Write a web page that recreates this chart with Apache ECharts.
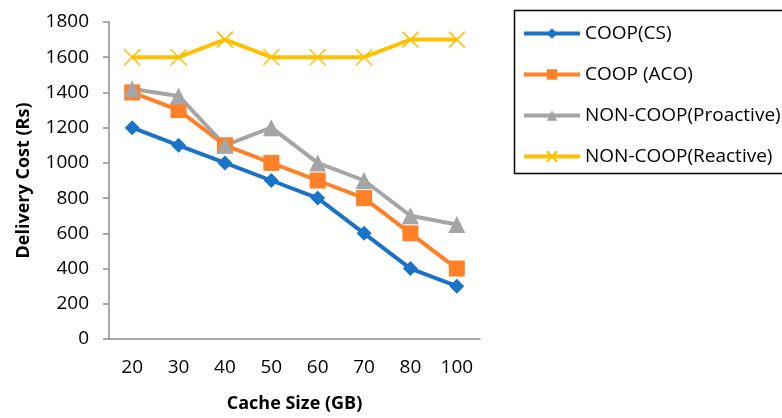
<!DOCTYPE html>
<html>
<head>
<meta charset="utf-8">
<script src="https://cdn.jsdelivr.net/npm/echarts@6/dist/echarts.min.js"></script>
<style>
  html, body { margin: 0; padding: 0; background: #fff; }
  #chart { width: 782px; height: 418px; }
</style>
</head>
<body>
<div id="chart"></div>
<script>
// Cache sizes (GB) along the x axis
const cacheSizes = ['20', '30', '40', '50', '60', '70', '80', '100'];

// Delivery cost (Rs) for each caching strategy
const coopCS = [1200, 1100, 1000, 900, 800, 600, 400, 300];
const coopACO = [1400, 1300, 1100, 1000, 900, 800, 600, 400];
const nonCoopProactive = [1420, 1380, 1100, 1200, 1000, 900, 700, 650];
const nonCoopReactive = [1600, 1600, 1700, 1600, 1600, 1600, 1700, 1700];

const seriesNames = ['COOP(CS)', 'COOP (ACO)', 'NON-COOP(Proactive)', 'NON-COOP(Reactive)'];

const FONT = '"Open Sans", "Liberation Sans", sans-serif';
const AXIS_GRAY = '#8C8C8C';
const CROSS = 'path://M0,0L10,10M10,0L0,10';

function lineSeries(name, data, color, symbol, size, extra) {
  return Object.assign({
    name: name,
    type: 'line',
    data: data,
    symbol: symbol,
    symbolSize: size,
    showAllSymbol: true,
    lineStyle: { color: color, width: 4 },
    itemStyle: { color: color, borderColor: color, borderWidth: 0 },
    emphasis: { disabled: true },
    animation: false
  }, extra || {});
}

const chart = echarts.init(document.getElementById('chart'), null, { renderer: 'canvas' });

chart.setOption({
  backgroundColor: '#ffffff',
  textStyle: { fontFamily: FONT },
  grid: { left: 109, top: 22, right: 302, bottom: 76, containLabel: false },
  xAxis: {
    type: 'category',
    data: cacheSizes,
    boundaryGap: true,
    name: 'Cache Size (GB)',
    nameLocation: 'middle',
    nameGap: 56,
    nameTextStyle: { fontFamily: FONT, fontSize: 18, fontWeight: 'bold', color: '#000' },
    axisLine: { lineStyle: { color: AXIS_GRAY, width: 1.5 } },
    axisTick: { show: false },
    axisLabel: { fontFamily: FONT, fontSize: 19, color: '#000', margin: 19 },
    splitLine: { show: false }
  },
  yAxis: {
    type: 'value',
    min: 0,
    max: 1800,
    interval: 200,
    name: 'Delivery Cost (Rs)',
    nameLocation: 'middle',
    nameGap: 76,
    nameRotate: 90,
    nameTextStyle: { fontFamily: FONT, fontSize: 18, fontWeight: 'bold', color: '#000' },
    axisLine: { show: true, lineStyle: { color: AXIS_GRAY, width: 1.5 } },
    axisTick: { show: true, length: 6, inside: false, lineStyle: { color: AXIS_GRAY, width: 1.5 } },
    axisLabel: {
      fontFamily: FONT, fontSize: 19, color: '#000', margin: 20,
      formatter: function (v) { return String(v); }
    },
    splitLine: { show: false }
  },
  legend: {
    orient: 'vertical',
    left: 517,
    top: 18,
    padding: 5,
    itemWidth: 56,
    itemHeight: 13,
    itemGap: 20,
    data: seriesNames,
    lineStyle: { width: 4 },
    textStyle: { fontFamily: FONT, fontSize: 19, color: '#000', lineHeight: 21 },
    selectedMode: false
  },
  graphic: [{
    type: 'rect',
    shape: { x: 514.5, y: 10.5, width: 300, height: 163 },
    style: { fill: 'none', stroke: '#000', lineWidth: 1.5 },
    silent: true
  }],
  series: [
    lineSeries(seriesNames[0], coopCS, '#1B73C7', 'diamond', 15),
    lineSeries(seriesNames[1], coopACO, '#FF8026', 'rect', 16),
    lineSeries(seriesNames[2], nonCoopProactive, '#A5A5A5', 'triangle', 17),
    lineSeries(seriesNames[3], nonCoopReactive, '#FFC000', CROSS, 16, {
      itemStyle: { color: '#FFC000', borderColor: '#FFC000', borderWidth: 1.5 }
    })
  ]
});
</script>
</body>
</html>
